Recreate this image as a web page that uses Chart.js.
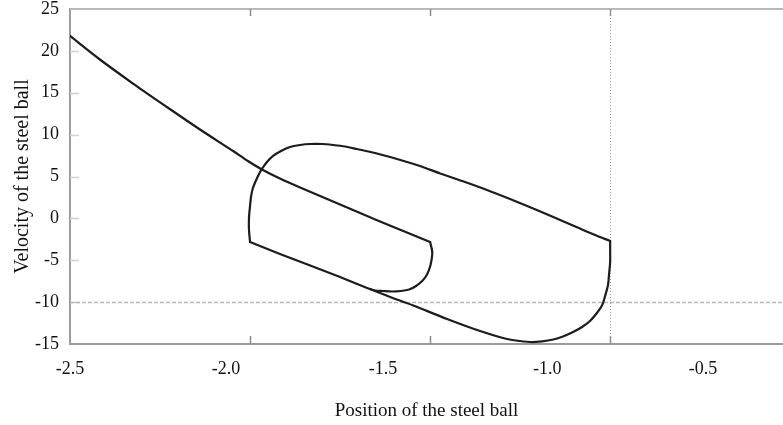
<!DOCTYPE html>
<html>
<head>
<meta charset="utf-8">
<script src="https://cdn.jsdelivr.net/npm/chart.js@4.4.1/dist/chart.umd.min.js"></script>
<style>
  html, body { margin: 0; padding: 0; background: #fff; overflow: hidden; }
  #wrap { width: 783px; height: 425px; }
</style>
</head>
<body>
<div id="wrap"><canvas id="phase"></canvas></div>
<script>

// phase path of the ball, split in pieces (position, velocity)
// 1. coming in from the left
const approachX = [-2.5, -2.417, -2.325, -2.231, -2.139, -2.047, -2.006, -1.967, -1.917, -1.861, -1.75, -1.639, -1.5]
const approachV = [21.78, 18.97, 16.10, 13.30, 10.61, 8.04, 6.85, 5.84, 4.76, 3.69, 1.66, -0.37, -2.82]

// 2. small inner turn, then the lower branch going left to the left wall
const innerX = [-1.5, -1.494, -1.497, -1.503, -1.511, -1.522, -1.539, -1.558, -1.581, -1.606, -1.631, -1.653,
  -1.667, -1.75, -1.833, -1.917, -2.0]
const innerV = [-2.82, -4.01, -5.21, -6.16, -6.88, -7.48, -8.07, -8.49, -8.67, -8.73, -8.67, -8.61,
  -8.43, -7.0, -5.63, -4.25, -2.82]

// 3. left wall, top arc and upper branch to the right wall
const upperX = [-2.0, -2.003, -2.003, -2.0, -1.997, -1.992, -1.983, -1.975, -1.967, -1.953, -1.936, -1.914,
  -1.889, -1.861, -1.833, -1.8, -1.769, -1.736, -1.703, -1.653, -1.611, -1.528, -1.472, -1.403,
  -1.342, -1.278, -1.217, -1.158, -1.097, -1.042, -1.0]
const upperV = [-2.82, -1.39, 0.04, 1.48, 2.67, 3.63, 4.58, 5.30, 5.90, 6.73, 7.45, 8.04,
  8.52, 8.76, 8.88, 8.88, 8.76, 8.58, 8.28, 7.81, 7.33, 6.25, 5.36, 4.34,
  3.39, 2.31, 1.24, 0.16, -0.97, -1.99, -2.70]

// 4. right wall, bottom arc and lower branch back to where the inner turn joins
const lowerX = [-1.0, -1.0, -1.0, -1.003, -1.006, -1.014, -1.022, -1.039, -1.056, -1.078, -1.103, -1.131,
  -1.158, -1.189, -1.222, -1.286, -1.361, -1.453, -1.547, -1.611, -1.667]
const lowerV = [-2.70, -4.01, -5.21, -6.64, -7.96, -9.27, -10.34, -11.42, -12.25, -12.97, -13.57, -14.10,
  -14.46, -14.68, -14.76, -14.40, -13.45, -12.01, -10.40, -9.39, -8.43]

// axes
const xMin = -2.5
const xMax = -0.52
const yMin = -15
const yMax = 25
const xTickLabels = ['-2.5', '-2.0', '-1.5', '-1.0', '-0.5']
const xLabelAt = [-2.5, -2.067, -1.631, -1.175, -0.742]   // where the printed labels sit
const xMarks = [-2.0, -1.5, -1.0]                         // small tick marks on the frame
const yMarks = [-10, -5, 0, 5, 10, 15, 20]
const wallPosition = -1.0
const velocityRef = -10

const serif = 'Liberation Serif, Times New Roman, serif'

function piece(xs, vs) {
  return {
    data: xs.map((x, i) => ({ x: x, y: vs[i] })),
    showLine: true,
    borderColor: '#1c1c1c',
    borderWidth: 2.2,
    borderCapStyle: 'round',
    borderJoinStyle: 'round',
    pointRadius: 0,
    fill: false,
    tension: 0.3
  }
}

// frame: top border, inward ticks, guide lines
const phaseFrame = {
  id: 'phaseFrame',
  beforeDatasetsDraw(chart) {
    const { ctx, chartArea: a, scales } = chart
    const sx = scales.x, sy = scales.y
    const seg = (x1, y1, x2, y2) => { ctx.beginPath(); ctx.moveTo(x1, y1); ctx.lineTo(x2, y2); ctx.stroke() }
    ctx.save()

    ctx.strokeStyle = '#b8b8b8'
    ctx.lineWidth = 2
    seg(a.left, a.top, a.right, a.top)

    ctx.strokeStyle = '#8a8a8a'
    ctx.lineWidth = 1.5
    xMarks.forEach(v => {
      let px = Math.round(sx.getPixelForValue(v)) + 0.5
      seg(px, a.bottom, px, a.bottom - 8)
      seg(px, a.top, px, a.top + 7)
    })
    ctx.strokeStyle = '#cfcfcf'
    yMarks.forEach(v => {
      let py = Math.round(sy.getPixelForValue(v)) + 0.5
      seg(a.left, py, a.left + 9, py)
    })

    // horizontal dashed line
    ctx.strokeStyle = '#b8b8b8'
    ctx.lineWidth = 1.5
    ctx.setLineDash([4, 2])
    let hy = Math.round(sy.getPixelForValue(velocityRef)) + 0.5
    seg(a.left, hy, a.right, hy)

    // wall, dotted
    ctx.strokeStyle = '#9a9a9a'
    ctx.lineWidth = 1
    ctx.setLineDash([1, 2])
    let wx = Math.round(sx.getPixelForValue(wallPosition)) + 0.5
    seg(wx, a.top, wx, a.bottom)

    ctx.restore()
  }
}

let phase_chart = new Chart(document.querySelector('#phase'), {
  type: 'scatter',
  data: {
    datasets: [
      piece(approachX, approachV),
      piece(innerX, innerV),
      piece(upperX, upperV),
      piece(lowerX, lowerV)
    ]
  },
  options: {
    responsive: true,
    maintainAspectRatio: false,
    animation: false,
    devicePixelRatio: 1,
    layout: { padding: { top: 9, right: 0, bottom: 0, left: 0 } },
    plugins: {
      legend: { display: false },
      tooltip: { enabled: false }
    },
    scales: {
      x: {
        type: 'linear',
        min: xMin,
        max: xMax,
        grid: { display: false, drawTicks: false },
        border: { display: true, color: '#9c9c9c', width: 2 },
        afterBuildTicks: (scale) => {
          scale.ticks = xLabelAt.map(v => ({ value: v }))
        },
        ticks: {
          color: '#111',
          padding: 14,
          font: { family: serif, size: 18 },
          autoSkip: false,
          maxRotation: 0,
          callback: (value, index) => xTickLabels[index]
        },
        title: {
          display: true,
          text: 'Position of the steel ball',
          color: '#111',
          font: { family: serif, size: 19 },
          padding: { top: 0, bottom: 3 }
        },
        afterFit: (scale) => {
          scale.height = 81
          scale.paddingLeft = 0
          scale.paddingRight = 0
        }
      },
      y: {
        min: yMin,
        max: yMax,
        grid: { display: false, drawTicks: false },
        border: { display: true, color: '#9c9c9c', width: 2 },
        ticks: {
          stepSize: 5,
          color: '#111',
          padding: 11,
          font: { family: serif, size: 18 }
        },
        title: {
          display: true,
          text: 'Velocity of the steel ball',
          color: '#111',
          font: { family: serif, size: 20 },
          padding: { top: 11, bottom: 0 }
        },
        afterFit: (scale) => {
          scale.width = 70
          scale.paddingTop = 0
          scale.paddingBottom = 0
        }
      }
    }
  },
  plugins: [phaseFrame]
})
</script>
</body>
</html>
